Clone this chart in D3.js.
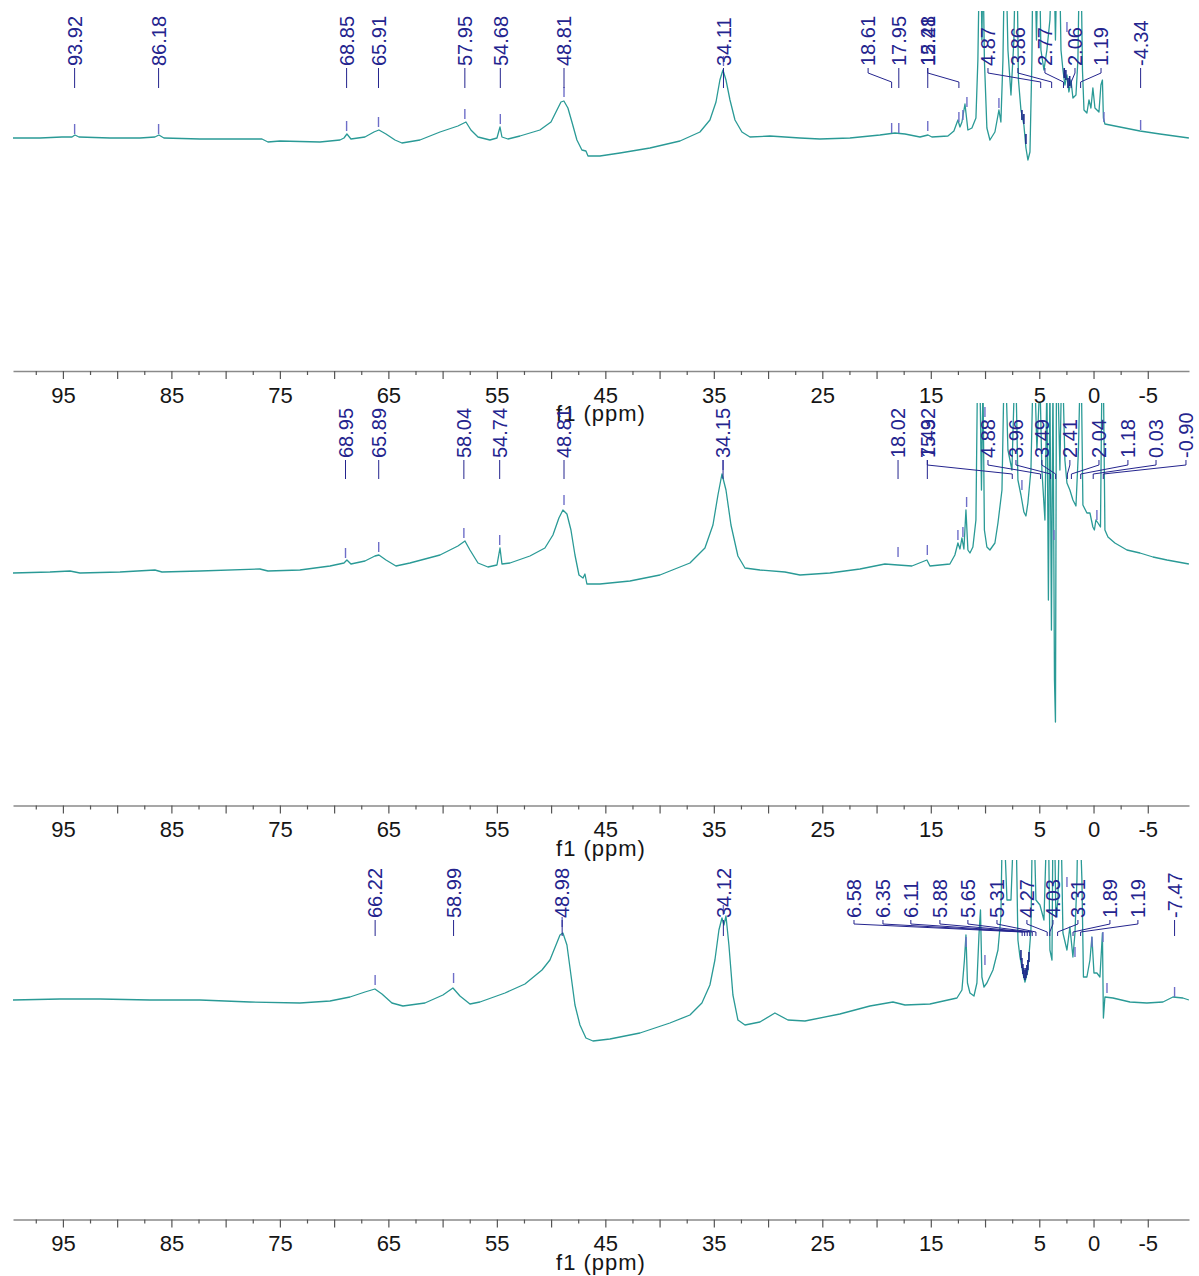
<!DOCTYPE html>
<html><head><meta charset="utf-8">
<script src="https://cdn.jsdelivr.net/npm/d3@7"></script>
<style>body{margin:0;background:#fff} svg{display:block} text{font-family:"Liberation Sans",Arial,sans-serif}</style>
</head><body><svg id="c" width="1199" height="1276"></svg>
<script>
// ---------- axis data ----------
const majorTicks = [95,90,85,80,75,70,65,60,55,50,45,40,35,30,25,20,15,10,5,0,-5];
const minorTicks = [97.5,92.5,87.5,82.5,77.5,72.5,67.5,62.5,57.5,52.5,47.5,42.5,37.5,32.5,27.5,22.5,17.5,12.5,7.5,2.5,-2.5];
const tickLabels = [95,85,75,65,55,45,35,25,15,5,0,-5];
const axisTitle = "f1 (ppm)";

// ---------- spectrum 1 (top) : [ppm, intensity] ----------
const spectrumA = [[99.60,0],[97.11,0],[95.09,1],[94.16,1],[93.89,3],[93.52,1],[90.66,0],[87.90,0],[86.52,1],[86.15,3],[85.69,0],[82.37,-1],[78.68,-1],[76.65,-1],[76.10,-4],[74.99,-3],[71.31,-4],[69.46,-2],[69.09,0],[68.82,4],[68.45,-1],[67.16,1],[66.33,6],[65.87,8],[65.22,4],[64.39,-2],[63.75,-5],[62.09,-2],[60.24,6],[58.59,12],[57.85,16],[57.39,8],[56.74,1],[55.64,-2],[54.99,0],[54.71,11],[54.53,1],[53.98,-1],[52.87,2],[51.03,8],[50.01,16],[49.46,28],[49.09,36],[48.82,37],[48.45,30],[48.08,16],[47.62,-2],[47.16,-12],[46.79,-13],[46.60,-18],[45.50,-18],[43.65,-15],[40.89,-10],[38.12,-3],[36.28,6],[35.36,18],[34.80,36],[34.44,58],[34.16,68],[33.88,58],[33.51,38],[33.05,18],[32.41,6],[31.67,1],[29.83,2],[27.06,0],[25.22,-1],[22.45,0],[19.69,3],[18.31,5],[17.38,4],[16.00,1],[15.26,3],[14.90,1],[13.42,2],[12.87,7],[12.50,18],[12.31,11],[12.13,16],[11.85,34],[11.58,8],[11.21,10],[10.84,20],[10.66,78],[10.52,178],[10.38,178],[10.29,98],[10.19,178],[10.06,78],[9.83,10],[9.55,-2],[9.09,6],[8.72,28],[8.54,16],[8.35,78],[8.21,178],[8.07,178],[7.89,88],[7.61,43],[7.34,98],[7.20,178],[7.06,178],[6.92,58],[6.69,28],[6.42,13],[6.23,-10],[6.05,-22],[5.86,-14],[5.68,78],[5.59,178],[5.40,178],[5.26,98],[5.12,178],[4.99,178],[4.85,88],[4.57,68],[4.30,88],[4.02,118],[3.83,178],[3.65,178],[3.51,98],[3.37,178],[3.14,178],[3.00,88],[2.82,68],[2.64,53],[2.45,63],[2.27,46],[2.08,58],[1.90,40],[1.62,43],[1.44,78],[1.30,178],[1.16,178],[1.02,68],[0.88,28],[0.61,25],[0.42,38],[0.24,30],[0.06,50],[-0.13,30],[-0.50,26],[-0.68,53],[-0.82,58],[-0.91,20],[-1.05,14],[-2.43,11],[-4.28,7],[-6.12,4],[-8.79,0]];
const labelsA = ["93.92","86.18","68.85","65.91","57.95","54.68","48.81","34.11","18.61","17.95","15.28","12.41","4.87","3.86","2.77","2.06","1.19","-4.34"];
const labelAtA = [93.92,86.18,68.85,65.91,57.95,54.68,48.81,34.11,20.78,17.95,15.28,15.28,9.73,6.97,4.48,1.71,-0.69,-4.34];
const markersA = [[93.92,4],[86.18,4],[68.85,7],[65.91,11],[57.95,19],[54.68,14],[48.81,41],[34.11,72],[18.61,5],[17.95,5],[15.28,7],[12.41,16],[12.04,18],[11.67,31],[8.72,30],[2.45,106],[-0.96,16],[-4.34,8]];
const clusterA = [[6.60,18],[6.42,14],[6.23,-6],[2.70,60],[2.55,58],[2.35,50],[2.20,52]];

// ---------- spectrum 2 (middle) ----------
const spectrumB = [[99.60,-1],[96.19,0],[94.35,1],[93.43,-1],[89.74,0],[86.52,2],[85.87,0],[82.37,1],[76.84,3],[76.10,1],[73.15,2],[70.38,6],[69.09,9],[68.82,12],[68.45,8],[67.16,11],[66.24,16],[65.87,17],[65.22,12],[64.30,6],[63.01,9],[60.24,17],[58.59,26],[57.94,31],[57.48,22],[56.74,9],[55.82,5],[54.99,7],[54.71,24],[54.53,8],[53.79,9],[51.95,16],[50.57,24],[49.83,37],[49.28,54],[48.91,62],[48.54,58],[48.17,42],[47.80,17],[47.43,-3],[47.06,-6],[46.88,-2],[46.70,-12],[45.50,-12],[42.73,-9],[39.97,-3],[37.20,9],[35.82,24],[35.08,47],[34.62,77],[34.25,98],[33.88,82],[33.42,47],[32.78,16],[32.13,4],[30.75,2],[28.45,0],[27.06,-3],[24.30,-1],[21.53,3],[19.23,8],[18.03,7],[16.74,6],[15.36,12],[15.08,6],[13.24,8],[12.78,17],[12.50,29],[12.31,23],[12.13,34],[11.95,23],[11.76,62],[11.58,22],[11.39,19],[11.12,25],[10.84,52],[10.70,192],[10.47,192],[10.33,82],[10.19,192],[10.06,42],[9.83,25],[9.55,22],[9.09,29],[8.81,49],[8.44,82],[8.26,192],[8.07,192],[7.89,122],[7.52,102],[7.29,192],[7.15,192],[6.97,92],[6.69,77],[6.42,60],[6.23,56],[6.05,69],[5.77,102],[5.59,192],[5.40,192],[5.22,122],[4.94,192],[4.76,102],[4.48,52],[4.30,192],[4.16,-28],[4.02,192],[3.88,-58],[3.74,192],[3.60,-108],[3.51,-150],[3.42,192],[3.28,192],[3.10,102],[2.96,192],[2.82,192],[2.64,112],[2.45,89],[2.18,82],[1.90,72],[1.62,66],[1.39,122],[1.25,192],[1.12,192],[0.98,67],[0.61,59],[0.33,59],[0.06,45],[-0.08,42],[-0.22,52],[-0.41,49],[-0.64,45],[-0.77,192],[-0.91,192],[-1.05,42],[-1.33,35],[-1.97,29],[-3.08,22],[-4.28,19],[-5.48,15],[-6.77,12],[-8.79,8]];
const labelsB = ["68.95","65.89","58.04","54.74","48.81","34.15","18.02","15.32","7.49","4.88","3.96","3.49","2.41","2.04","1.18","0.03","-0.90"];
const labelAtB = [68.95,65.89,58.04,54.74,48.81,34.15,18.02,15.32,15.32,9.73,7.15,4.76,2.18,-0.50,-3.17,-5.76,-8.52];
const markersB = [[68.95,14],[65.89,20],[58.04,34],[54.74,27],[48.81,67],[34.15,102],[18.02,15],[15.32,17],[12.50,32],[12.04,35],[11.70,65],[10.01,155],[6.60,82],[3.65,32],[-0.31,52]];
const clusterB = [];

// ---------- spectrum 3 (bottom) ----------
const spectrumC = [[99.60,0],[95.27,1],[91.58,1],[86.98,0],[82.37,0],[77.76,-2],[73.15,-3],[70.38,-1],[68.54,3],[67.16,8],[66.24,11],[65.59,6],[64.67,-3],[63.66,-6],[61.63,-3],[59.97,5],[59.05,12],[58.40,4],[57.48,-4],[56.56,-2],[54.25,7],[52.41,16],[50.84,30],[50.11,40],[49.55,55],[49.18,65],[48.91,67],[48.54,55],[48.17,25],[47.80,-5],[47.34,-25],[46.79,-38],[46.14,-41],[44.58,-39],[41.81,-33],[39.05,-23],[37.20,-15],[36.10,-3],[35.36,15],[34.90,40],[34.53,70],[34.25,82],[34.07,75],[33.88,84],[33.61,55],[33.24,5],[32.78,-20],[32.13,-25],[30.75,-22],[29.37,-13],[28.17,-20],[26.60,-21],[23.38,-14],[20.61,-6],[18.49,-2],[17.38,-5],[15.08,-4],[12.59,2],[12.13,10],[11.90,40],[11.76,65],[11.62,17],[11.39,7],[11.02,4],[10.75,17],[10.56,65],[10.42,90],[10.29,23],[10.10,13],[9.83,17],[9.27,30],[8.81,50],[8.54,83],[8.40,180],[8.26,180],[7.98,100],[7.61,100],[7.34,180],[7.15,180],[6.97,60],[6.78,43],[6.51,27],[6.32,18],[6.05,30],[5.77,70],[5.63,180],[5.49,180],[5.31,100],[4.94,95],[4.57,80],[4.30,180],[4.16,180],[4.02,50],[3.83,40],[3.74,180],[3.60,180],[3.47,83],[3.28,100],[3.14,180],[3.00,180],[2.82,67],[2.45,50],[2.18,73],[1.90,43],[1.71,67],[1.53,120],[1.44,180],[1.25,180],[1.07,120],[0.93,23],[0.61,23],[0.33,40],[0.15,63],[-0.04,27],[-0.31,27],[-0.59,23],[-0.82,67],[-0.91,-18],[-1.05,3],[-1.79,2],[-3.36,-2],[-4.92,-3],[-6.40,-2],[-7.32,3],[-8.24,2],[-8.79,0]];
const labelsC = ["66.22","58.99","48.98","34.12","6.58","6.35","6.11","5.88","5.65","5.31","4.27","4.03","3.31","1.89","1.19","-7.47"];
const labelAtC = [66.22,58.99,48.98,34.12,22.08,19.41,16.84,14.16,11.58,8.90,6.14,3.74,1.44,-1.51,-4.09,-7.47];
const markersC = [[66.22,15],[58.99,17],[48.98,73],[34.12,85],[11.75,53],[10.01,35],[2.45,113],[1.71,43],[0.15,53],[-0.87,58],[-1.24,7],[-7.47,3]];
const clusterC = [[6.69,40],[6.60,32],[6.51,26],[6.42,22],[6.32,20],[6.23,22],[6.14,25],[6.05,30],[5.95,38]];

// ---------- layout ----------
const panels = [
  {spec:spectrumA, labels:labelsA, labelAt:labelAtA, markers:markersA, cluster:clusterA, base:138,  axisY:371,    clipTop:11,  textBottom:66,  lead:[68,73,82,88]},
  {spec:spectrumB, labels:labelsB, labelAt:labelAtB, markers:markersB, cluster:clusterB, base:572,  axisY:805.5,  clipTop:403, textBottom:458, lead:[460,465,474,479]},
  {spec:spectrumC, labels:labelsC, labelAt:labelAtC, markers:markersC, cluster:clusterC, base:1000, axisY:1219.5, clipTop:860, textBottom:918, lead:[920,924,932,936]}
];

const svg = d3.select("#c");
const x = d3.scaleLinear().domain([99.6, -8.8]).range([13, 1189]);
const specColor = "#2a9a96", navy = "#24248e", markColor = "#6e6ec8", clusterColor = "#1d2a8a";

panels.forEach((p, i) => {
  const y = d3.scaleLinear().domain([0, 100]).range([p.base, p.base - 100]);
  const g = svg.append("g");

  svg.append("clipPath").attr("id", "clip" + i)
    .append("rect").attr("x", 0).attr("y", p.clipTop)
    .attr("width", 1199).attr("height", p.axisY - 6 - p.clipTop);

  g.append("path").datum(p.spec)
    .attr("clip-path", `url(#clip${i})`)
    .attr("d", d3.line().x(d => x(d[0])).y(d => y(d[1])))
    .attr("fill", "none").attr("stroke", specColor)
    .attr("stroke-width", 1.3).attr("stroke-linejoin", "round");

  // dense peak-pick marks (dark clusters on the trace)
  g.selectAll("line.cl").data(p.cluster).join("line").attr("class", "cl")
    .attr("x1", d => x(d[0])).attr("x2", d => x(d[0]))
    .attr("y1", d => y(d[1])).attr("y2", d => y(d[1]) - 10)
    .attr("stroke", clusterColor).attr("stroke-width", 1.6);

  // peak markers near the trace
  g.selectAll("line.mk").data(p.markers).join("line").attr("class", "mk")
    .attr("x1", d => x(d[0])).attr("x2", d => x(d[0]))
    .attr("y1", d => y(d[1])).attr("y2", d => y(d[1]) - 10)
    .attr("stroke", markColor).attr("stroke-width", 1.4);

  // leader lines
  const L = p.lead;
  g.selectAll("path.ld").data(p.labels).join("path").attr("class", "ld")
    .attr("d", (d, j) => {
      const lx = x(p.labelAt[j]), px = x(+d);
      if (Math.abs(lx - px) < 1.5) return `M${px},${L[0]}V${L[3]}`;
      return `M${lx},${L[0]}V${L[1]}L${px},${L[2]}V${L[3]}`;
    })
    .attr("fill", "none").attr("stroke", navy).attr("stroke-width", 1);

  // labels
  g.selectAll("text.lab").data(p.labels).join("text").attr("class", "lab")
    .attr("transform", (d, j) => `translate(${x(p.labelAt[j])},${p.textBottom}) rotate(-90)`)
    .attr("dy", "0.36em")
    .attr("font-size", 20).attr("fill", navy)
    .text(d => d);

  // axis
  const ax = g.append("g").attr("transform", `translate(0,${p.axisY})`);
  ax.call(d3.axisBottom(x).tickValues(majorTicks).tickSize(8).tickSizeOuter(0).tickPadding(8)
    .tickFormat(d => tickLabels.includes(d) ? String(d) : ""));
  ax.append("g").call(d3.axisBottom(x).tickValues(minorTicks).tickSize(4).tickSizeOuter(0).tickFormat(""))
    .select(".domain").remove();
  ax.selectAll(".domain").attr("stroke", "#8a8a8a").attr("stroke-width", 1.5);
  ax.selectAll(".tick line").attr("stroke", "#555").attr("stroke-width", 1.2);
  ax.selectAll(".tick text").attr("font-size", 22).attr("fill", "#151515")
    .attr("font-family", "'Liberation Sans', Arial, sans-serif");

  g.append("text").attr("x", 601).attr("y", p.axisY + 50)
    .attr("text-anchor", "middle").attr("font-size", 22).attr("fill", "#151515")
    .attr("letter-spacing", 1)
    .text(axisTitle);
});
</script>
</body></html>
